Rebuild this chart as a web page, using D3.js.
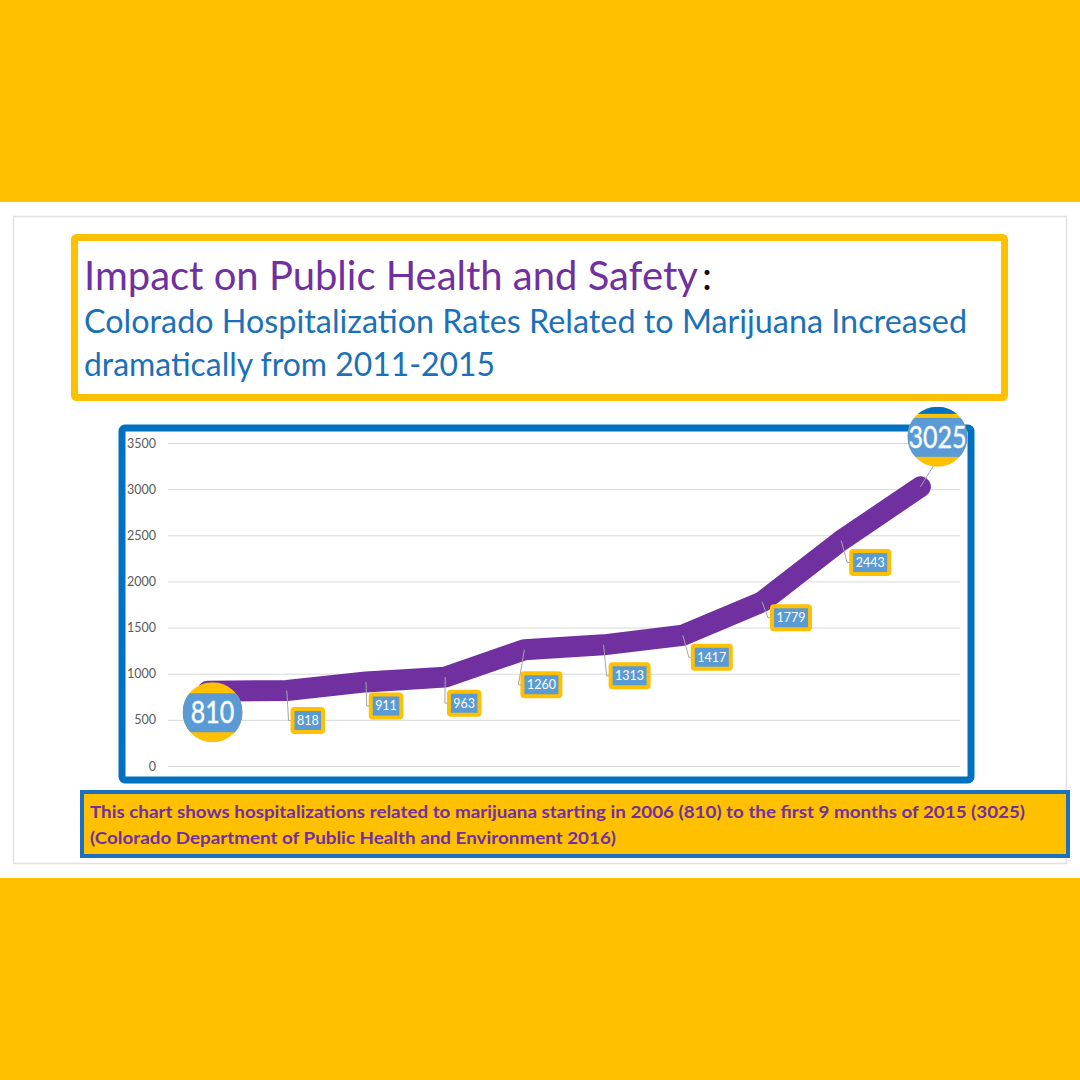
<!DOCTYPE html>
<html><head><meta charset="utf-8">
<script src="https://cdn.jsdelivr.net/npm/d3@7"></script>
<style>html,body{margin:0;padding:0;background:#FFC000;overflow:hidden}</style>
</head><body>
<script>
// ---------- DATA ----------
const years = [2006, 2007, 2008, 2009, 2010, 2011, 2012, 2013, 2014, 2015];
const hospitalizations = [810, 818, 911, 963, 1260, 1313, 1417, 1779, 2443, 3025];
const yTicks = [0, 500, 1000, 1500, 2000, 2500, 3000, 3500];
const titleText = "Impact on Public Health and Safety";
const subtitleLines = ["Colorado Hospitalization Rates Related to Marijuana Increased", "dramatically from 2011-2015"];
const noteLines = ["This chart shows hospitalizations related to marijuana starting in 2006 (810) to the first 9 months of 2015 (3025)", "(Colorado Department of Public Health and Environment 2016)"];
const highlighted = [2006, 2015];

// ---------- LAYOUT (label offsets relative to each point) ----------
const labelDx = [5, 21, 20, 19, 17, 26, 29, 29, 29, 17];
const labelDy = [21, 30, 24, 26, 35, 31, 22, 16, 22, -50];

const W = 1080, H = 1080;
const YEL = "#FFC000", PURPLE = "#7030A0", BLUE = "#0070C0", LBLUE = "#5B9BD5";

const svg = d3.select("body").append("svg").attr("width", W).attr("height", H)
  .style("display", "block");

svg.append("rect").attr("width", W).attr("height", H).attr("fill", YEL);
svg.append("rect").attr("x", 0).attr("y", 202).attr("width", W).attr("height", 676).attr("fill", "#fff");
svg.append("rect").attr("x", 13.5).attr("y", 216.5).attr("width", 1053).attr("height", 647)
  .attr("fill", "#fff").attr("stroke", "#E2E2E2").attr("stroke-width", 1.5);

// Title box
svg.append("rect").attr("x", 74.5).attr("y", 237.5).attr("width", 930).attr("height", 160)
  .attr("rx", 2).attr("fill", "#fff").attr("stroke", YEL).attr("stroke-width", 7);
const tf = "Lato, 'Open Sans', sans-serif";
const title = svg.append("text").attr("x", 84).attr("y", 290).attr("font-family", tf)
  .attr("font-size", 41).attr("fill", PURPLE).text(titleText);
const natural = title.node().getComputedTextLength();
const tSize = 41 * 614 / natural;
title.attr("font-size", tSize);
const tw = title.node().getComputedTextLength();
svg.append("text").attr("x", 84 + tw + 4).attr("y", 290).attr("font-family", tf)
  .attr("font-size", tSize).attr("fill", "#111").text(":");
subtitleLines.forEach((t, i) => {
  svg.append("text").attr("x", 84).attr("y", 333 + i * 43).attr("font-family", tf).attr("font-size", 32)
    .attr("fill", "#1C70B8").attr("textLength", i === 0 ? 883 : 411)
    .attr("lengthAdjust", "spacingAndGlyphs").text(t);
});

// Chart box
svg.append("rect").attr("x", 122).attr("y", 428).attr("width", 849).attr("height", 352)
  .attr("rx", 3).attr("fill", "#fff").attr("stroke", BLUE).attr("stroke-width", 7);

const x = d3.scalePoint().domain(years).range([168, 960]).padding(0.5);
const y = d3.scaleLinear().domain([0, 3500]).range([766, 443]);

// Grid + y axis
const yAxis = d3.axisLeft(y).tickValues(yTicks).tickFormat(d3.format("d"))
  .tickSize(-(960 - 168)).tickPadding(12);
const gy = svg.append("g").attr("transform", "translate(168,0)").call(yAxis);
gy.select(".domain").remove();
gy.selectAll(".tick line").attr("stroke", "#D9D9D9").attr("stroke-width", 1);
gy.selectAll(".tick text").attr("fill", "#595959").attr("font-family", tf).attr("font-size", 12.5);

const pts = years.map((yr, i) => ({ yr, v: hospitalizations[i], px: x(yr), py: y(hospitalizations[i]), i }));

// Line
const line = d3.line().x(d => d.px).y(d => d.py);
svg.append("path").datum(pts).attr("d", line).attr("fill", "none").attr("stroke", PURPLE)
  .attr("stroke-width", 21).attr("stroke-linejoin", "round").attr("stroke-linecap", "round");

// Labels
const defs = svg.append("defs");
pts.forEach(d => {
  const cx = d.px + labelDx[d.i], cy = d.py + labelDy[d.i];
  const txt = String(d.v);
  if (highlighted.includes(d.yr)) {
    const r = 30;
    if (d.i !== 0) {
      svg.append("line").attr("x1", d.px).attr("y1", d.py).attr("x2", cx - 4).attr("y2", cy + r - 1)
        .attr("stroke", "#A6A6A6").attr("stroke-width", 1);
    }
    const id = "clip" + d.i;
    defs.append("clipPath").attr("id", id).append("circle").attr("cx", cx).attr("cy", cy).attr("r", r);
    const g = svg.append("g").attr("clip-path", `url(#${id})`);
    g.append("rect").attr("x", cx - r).attr("y", cy - r).attr("width", 2 * r).attr("height", 2 * r).attr("fill", YEL);
    g.append("rect").attr("x", cx - r).attr("y", cy - 19).attr("width", 2 * r).attr("height", 39).attr("fill", LBLUE);
    if (d.i === pts.length - 1) {
      g.append("rect").attr("x", cx - r).attr("y", cy - r).attr("width", 2 * r).attr("height", 7).attr("fill", BLUE);
    }
    svg.append("text").attr("x", cx).attr("y", cy + 11).attr("text-anchor", "middle")
      .attr("font-family", tf).attr("font-size", 31).attr("fill", "#fff")
      .attr("textLength", txt.length * 14.5).attr("lengthAdjust", "spacingAndGlyphs")
      .attr("stroke", "#A9D3F5").attr("stroke-width", 0.8).attr("paint-order", "stroke").text(txt);
  } else {
    const bw = txt.length * 7.5 + 8, bh = 23;
    const left = cx - bw / 2;
    svg.append("polyline").attr("points", `${d.px},${d.py} ${left - 4},${cy} ${left},${cy}`)
      .attr("fill", "none").attr("stroke", "#A6A6A6").attr("stroke-width", 1);
    svg.append("rect").attr("x", left).attr("y", cy - bh / 2).attr("width", bw).attr("height", bh)
      .attr("rx", 2).attr("fill", LBLUE).attr("stroke", YEL).attr("stroke-width", 4);
    svg.append("text").attr("x", cx).attr("y", cy + 4.5).attr("text-anchor", "middle")
      .attr("font-family", tf).attr("font-size", 12.5).attr("fill", "#fff").text(txt);
  }
});

// Note box
svg.append("rect").attr("x", 82).attr("y", 792).attr("width", 986).attr("height", 64)
  .attr("fill", YEL).attr("stroke", "#1D6FC0").attr("stroke-width", 4);
noteLines.forEach((t, i) => {
  svg.append("text").attr("x", 90).attr("y", 818 + i * 26).attr("font-family", tf)
    .attr("font-weight", "bold").attr("font-size", 17.5).attr("fill", PURPLE)
    .attr("textLength", i === 0 ? 935 : 526).attr("lengthAdjust", "spacingAndGlyphs").text(t);
});
</script>
</body></html>
